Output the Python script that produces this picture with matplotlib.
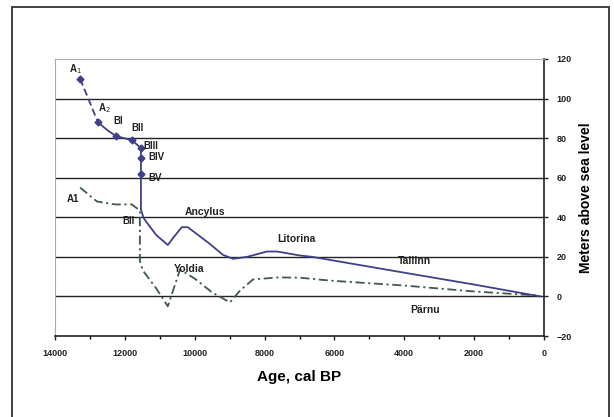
"""Shore displacement curves, northern Estonia: Baltic Ice Lake / Ancylus / Litorina
(Tallinn) and Yoldia / Parnu, plotted against calibrated age."""

import matplotlib

matplotlib.use("Agg")
import matplotlib.pyplot as plt
from matplotlib.patches import Rectangle

plt.rcParams["font.family"] = ["Liberation Sans", "DejaVu Sans"]

# Tallinn curve: Baltic Ice Lake stages (A1..BV), then Ancylus and Litorina
bil_age = [13280, 12770]
bil_lvl = [110, 88]
tallinn_age = [12770, 12500, 12250, 11800, 11540, 11540, 11540, 11540, 11470,
               11400, 11100, 10770, 10600, 10370, 10200, 9600, 9190, 8900, 8500,
               7930, 7640, 6990, 6640, 4000, 2000, 100]
tallinn_lvl = [88, 84, 81, 79, 75, 70, 62, 44, 40,
               38, 31, 26, 30, 35, 35, 27, 21, 19, 20,
               22.7, 22.7, 20.7, 20, 12, 6, 0]
stage_age = [13280, 12770, 12250, 11800, 11540, 11540, 11540]
stage_lvl = [110, 88, 81, 79, 75, 70, 62]

# Parnu curve: early A1 shoreline, Yoldia dip and later regression
parnu_age = [13280, 12800, 12280, 11800, 11570, 11570, 11570, 11570, 11480,
             11100, 10770, 10420, 10000, 9500, 8990, 8700, 8330, 7620, 7000,
             6130, 4000, 2000, 200]
parnu_lvl = [55, 48, 46.5, 46.5, 43.4, 33, 25, 18, 13,
             4, -5, 13.6, 9, 2, -3, 3, 8.6, 9.6, 9.5,
             8, 5.5, 2.5, 0.5]

x_ticks = [14000, 12000, 10000, 8000, 6000, 4000, 2000, 0]
y_ticks = [-20, 0, 20, 40, 60, 80, 100, 120]

blue = "#3f3f8c"
green = "#3f5a48"

fig = plt.figure(figsize=(6.14, 4.17), dpi=100)
ax = fig.add_axes([55 / 614, 1 - 336 / 417, 489 / 614, 277 / 417])

# outer frame around the whole chart
fig.patches.append(Rectangle((12 / 614, -0.02), 597 / 614, 1 - 7 / 417 + 0.02,
                             transform=fig.transFigure, fill=False,
                             edgecolor="#333333", lw=1.3))

for y in y_ticks[1:-1]:
    ax.axhline(y, color="#222222", lw=1.0, zorder=1)

ax.plot(parnu_age, parnu_lvl, color=green, lw=1.3, ls=(0, (5, 2, 1.2, 2)), zorder=2)
ax.plot(bil_age, bil_lvl, color=blue, lw=1.3, ls=(0, (4, 2)), zorder=3)
ax.plot(tallinn_age, tallinn_lvl, color=blue, lw=1.3, zorder=3)
ax.plot(stage_age, stage_lvl, ls="none", marker="D", ms=3.5, color=blue, zorder=4)

labels = [
    (13430, 115, "A$_1$"), (12600, 95, "A$_2$"), (12200, 88.5, "BI"),
    (11650, 85, "BII"), (11480, 76, "BIII"), (11340, 70.5, "BIV"),
    (11330, 60, "BV"), (13500, 49, "A1"), (11900, 38, "BII"),
    (9700, 42.5, "Ancylus"), (7100, 29, "Litorina"), (3700, 18, "Tallinn"),
    (10150, 14, "Yoldia"), (3400, -7, "Pärnu"),
]
for x, y, s in labels:
    big = s in ("Ancylus", "Litorina", "Tallinn", "Yoldia", "Pärnu")
    ax.text(x, y, s, fontsize=7.5 if big else 7, fontweight="bold", color="#222222",
            ha="left" if s in ("BIII", "BIV", "BV") else "center", va="center", zorder=5)

ax.set_xlim(14000, 0)
ax.set_ylim(-20, 120)
ax.set_xticks(x_ticks)
ax.set_xticks(range(1000, 14000, 2000), minor=True)
ax.set_yticks(y_ticks)
ax.yaxis.tick_right()
ax.yaxis.set_label_position("right")
ax.tick_params(axis="both", labelsize=6.5, length=3, width=1, colors="#222222", pad=6)
ax.tick_params(axis="x", which="minor", length=2, width=1)
for t in ax.get_xticklabels() + ax.get_yticklabels():
    t.set_fontweight("bold")

ax.spines["top"].set_color("#aaaaaa")
ax.spines["left"].set_color("#aaaaaa")
ax.spines["bottom"].set_color("#222222")
ax.spines["right"].set_color("#222222")
ax.spines["bottom"].set_linewidth(1.2)
ax.spines["right"].set_linewidth(1.2)

ax.set_xlabel("Age, cal BP", fontsize=11, fontweight="bold", labelpad=9)
ax.set_ylabel("Meters above sea level", fontsize=10, fontweight="bold", labelpad=5)

fig.savefig("out.png", dpi=100)
